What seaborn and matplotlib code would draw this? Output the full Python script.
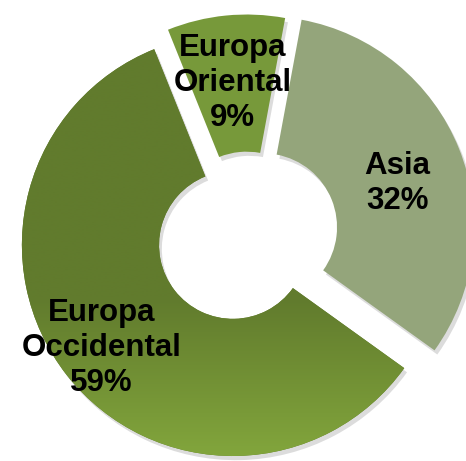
import numpy as np
import matplotlib
matplotlib.use("Agg")
import matplotlib.pyplot as plt
import matplotlib.patheffects as pe
from matplotlib.colors import LinearSegmentedColormap
import seaborn as sns

# ---- data ----
regions = ["Europa Oriental", "Asia", "Europa Occidental"]
shares = [9, 32, 59]

# ---- style ----
sns.set_theme(style="white")
plt.rcParams['font.family'] = ['Liberation Sans', 'DejaVu Sans']

colors = ["#77993a", "#94a57b", "#617b2d"]
explode = [0.038, 0.08, 0.088]
label_r = [0.678, 0.667, 0.792]
label_dt = [0.0, -4.0, 0.0]

fig = plt.figure(figsize=(4.66, 4.61), dpi=100)
ax = fig.add_axes([0, 0, 1, 1])

wedges, _ = ax.pie(shares, colors=colors, explode=explode, startangle=111.9,
                   counterclock=False, radius=1.0,
                   wedgeprops=dict(width=0.65, linewidth=0, edgecolor='none'))

for w in wedges:
    w.set_path_effects([pe.SimplePatchShadow(offset=(2, -3), shadow_rgbFace='0.55', alpha=0.3),
                        pe.Normal()])

# gradient on the large wedge
occ = wedges[2]
grad = np.linspace(0, 1, 256).reshape(-1, 1)
cmap = LinearSegmentedColormap.from_list("g", [(0, "#84a83d"), (0.35, "#617b2d"), (1, "#617b2d")])
im = ax.imshow(grad, cmap=cmap, origin='lower', extent=(-1.3, 1.2, -1.1, 1.15),
               aspect='auto', zorder=occ.get_zorder() + 0.1, interpolation='bilinear')
im.set_clip_path(occ)

for w, name, v, r, dt in zip(wedges, regions, shares, label_r, label_dt):
    ang = np.deg2rad((w.theta1 + w.theta2) / 2 + dt)
    cx, cy = w.center
    ax.text(cx + r * np.cos(ang), cy + r * np.sin(ang),
            name.replace(" ", "\n") + f"\n{v}%",
            ha='center', va='center', fontsize=22.5, fontweight='bold',
            linespacing=1.22, color='black', zorder=5)

ax.set_xlim(-1.173, 1.0355)
ax.set_ylim(-1.078, 1.1066)
ax.set_aspect('auto')
ax.axis('off')

fig.savefig("out.png", dpi=100)
